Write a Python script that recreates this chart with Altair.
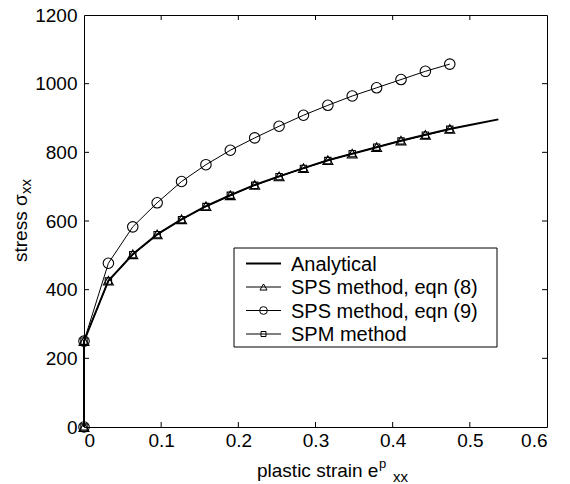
import altair as alt
import pandas as pd

# ---- data ----
strain = [0.0, 0.0, 0.0316, 0.0632, 0.0948, 0.1264, 0.158, 0.1896, 0.2212, 0.2528,
          0.2844, 0.316, 0.3476, 0.3792, 0.4108, 0.4424, 0.474]
sps8 = [0, 250, 426, 503, 561, 605, 643, 675, 705, 730, 754, 777, 796, 815, 834, 851, 868]
sps9 = [0, 250, 477, 583, 653, 715, 764, 806, 842, 876, 908, 937, 964, 988, 1012, 1036, 1057]
spm = [0, 250, 425, 502, 560, 604, 642, 675, 704, 729, 753, 776, 796, 815, 833, 850, 867]
ana_strain = strain + [0.505, 0.537]
ana_stress = sps8 + [882, 896]
x_ticks = [0, 0.1, 0.2, 0.3, 0.4, 0.5, 0.6]
y_ticks = [0, 200, 400, 600, 800, 1000, 1200]
legend_labels = ["Analytical", "SPS method, eqn (8)", "SPS method, eqn (9)", "SPM method"]

W, H = 463, 412
FONT = "Liberation Sans"

xs = alt.Scale(domain=[0, 0.6], nice=False, zero=False)
ys = alt.Scale(domain=[0, 1200], nice=False, zero=False)

ana_df = pd.DataFrame({"x": ana_strain, "y": ana_stress, "i": range(len(ana_strain))})
def series_df(vals):
    return pd.DataFrame({"x": strain, "y": vals, "i": range(len(strain))})

X = alt.X("x:Q", scale=xs, axis=alt.Axis(values=x_ticks, labelPadding=4, format="~g"))
Y = alt.Y("y:Q", scale=ys, axis=alt.Axis(values=y_ticks, labelPadding=7, format="d"))

analytical = alt.Chart(ana_df).mark_line(color="black", strokeWidth=2).encode(
    x=X, y=Y, order="i:Q")

def series(vals, shape, size):
    d = series_df(vals)
    ln = alt.Chart(d).mark_line(color="black", strokeWidth=1).encode(x=X, y=Y, order="i:Q")
    pt = alt.Chart(d).mark_point(shape=shape, size=size, filled=False, color="black",
                                 strokeWidth=1.1, opacity=1).encode(x=X, y=Y)
    return ln, pt

l8, p8 = series(sps8, "triangle-up", 100)
l9, p9 = series(sps9, "circle", 110)
lm, pm = series(spm, "square", 40)

# inward ticks on all four sides
xt = pd.DataFrame({"x": x_ticks[1:-1]})
yt = pd.DataFrame({"y": y_ticks[1:-1]})
TL = 5
tick_b = alt.Chart(xt).mark_rule(color="black").encode(x=alt.X("x:Q", scale=xs), y=alt.value(H), y2=alt.value(H - TL))
tick_t = alt.Chart(xt).mark_rule(color="black").encode(x=alt.X("x:Q", scale=xs), y=alt.value(0), y2=alt.value(TL))
tick_l = alt.Chart(yt).mark_rule(color="black").encode(y=alt.Y("y:Q", scale=ys), x=alt.value(0), x2=alt.value(TL))
tick_r = alt.Chart(yt).mark_rule(color="black").encode(y=alt.Y("y:Q", scale=ys), x=alt.value(W), x2=alt.value(W - TL))

# legend
one = pd.DataFrame({"a": [0]})
lx0, lx1, ly0, ly1 = 150, 413, 233, 332
box = alt.Chart(one).mark_rect(fill="white", stroke="black", strokeWidth=1).encode(
    x=alt.value(lx0), x2=alt.value(lx1), y=alt.value(ly0), y2=alt.value(ly1))
leg_layers = [box]
row_y = [248.5, 272, 295.5, 319]
shapes = [None, ("triangle-up", 50), ("circle", 60), ("square", 25)]
for lab, yy, shp, in zip(legend_labels, row_y, shapes):
    sw = 2 if shp is None else 1
    leg_layers.append(alt.Chart(one).mark_rule(color="black", strokeWidth=sw).encode(
        x=alt.value(162), x2=alt.value(197), y=alt.value(yy)))
    if shp is not None:
        leg_layers.append(alt.Chart(one).mark_point(shape=shp[0], size=shp[1], filled=False,
                                                    color="black", strokeWidth=1, opacity=1).encode(
            x=alt.value(179.5), y=alt.value(yy)))
    leg_layers.append(alt.Chart(one).mark_text(text=lab, align="left", baseline="middle",
                                               font=FONT, fontSize=20, color="black").encode(
        x=alt.value(207), y=alt.value(yy + 1)))

# axis titles with sub/superscripts
def txt(s, x, y, size, angle=0):
    kw = dict(text=s, align="left", baseline="alphabetic", font=FONT, fontSize=size, color="black")
    if angle:
        kw["angle"] = angle
    return alt.Chart(one).mark_text(**kw).encode(x=alt.value(x), y=alt.value(y))

tx = [
    txt("plastic strain e", 173, 462, 19),
    txt("p", 295, 452.5, 13),
    txt("xx", 309, 466.5, 15),
    txt("stress σ", -57, 247, 19, angle=270),
    txt("xx", -53, 179, 15, angle=270),
]

chart = alt.layer(
    analytical, l8, l9, lm, p8, p9, pm,
    tick_b, tick_t, tick_l, tick_r,
    *leg_layers, *tx
).properties(
    width=W, height=H,
    autosize=alt.AutoSizeParams(type="none"),
    padding={"left": 76, "top": 7, "right": 12, "bottom": 62},
).configure_view(
    stroke="black", strokeWidth=1
).configure_axis(
    domain=False, ticks=False, grid=False, title=None,
    labelFont=FONT, labelFontSize=19, labelColor="black",
)

chart.save("out.html", embed_options={"renderer": "svg", "actions": False})
